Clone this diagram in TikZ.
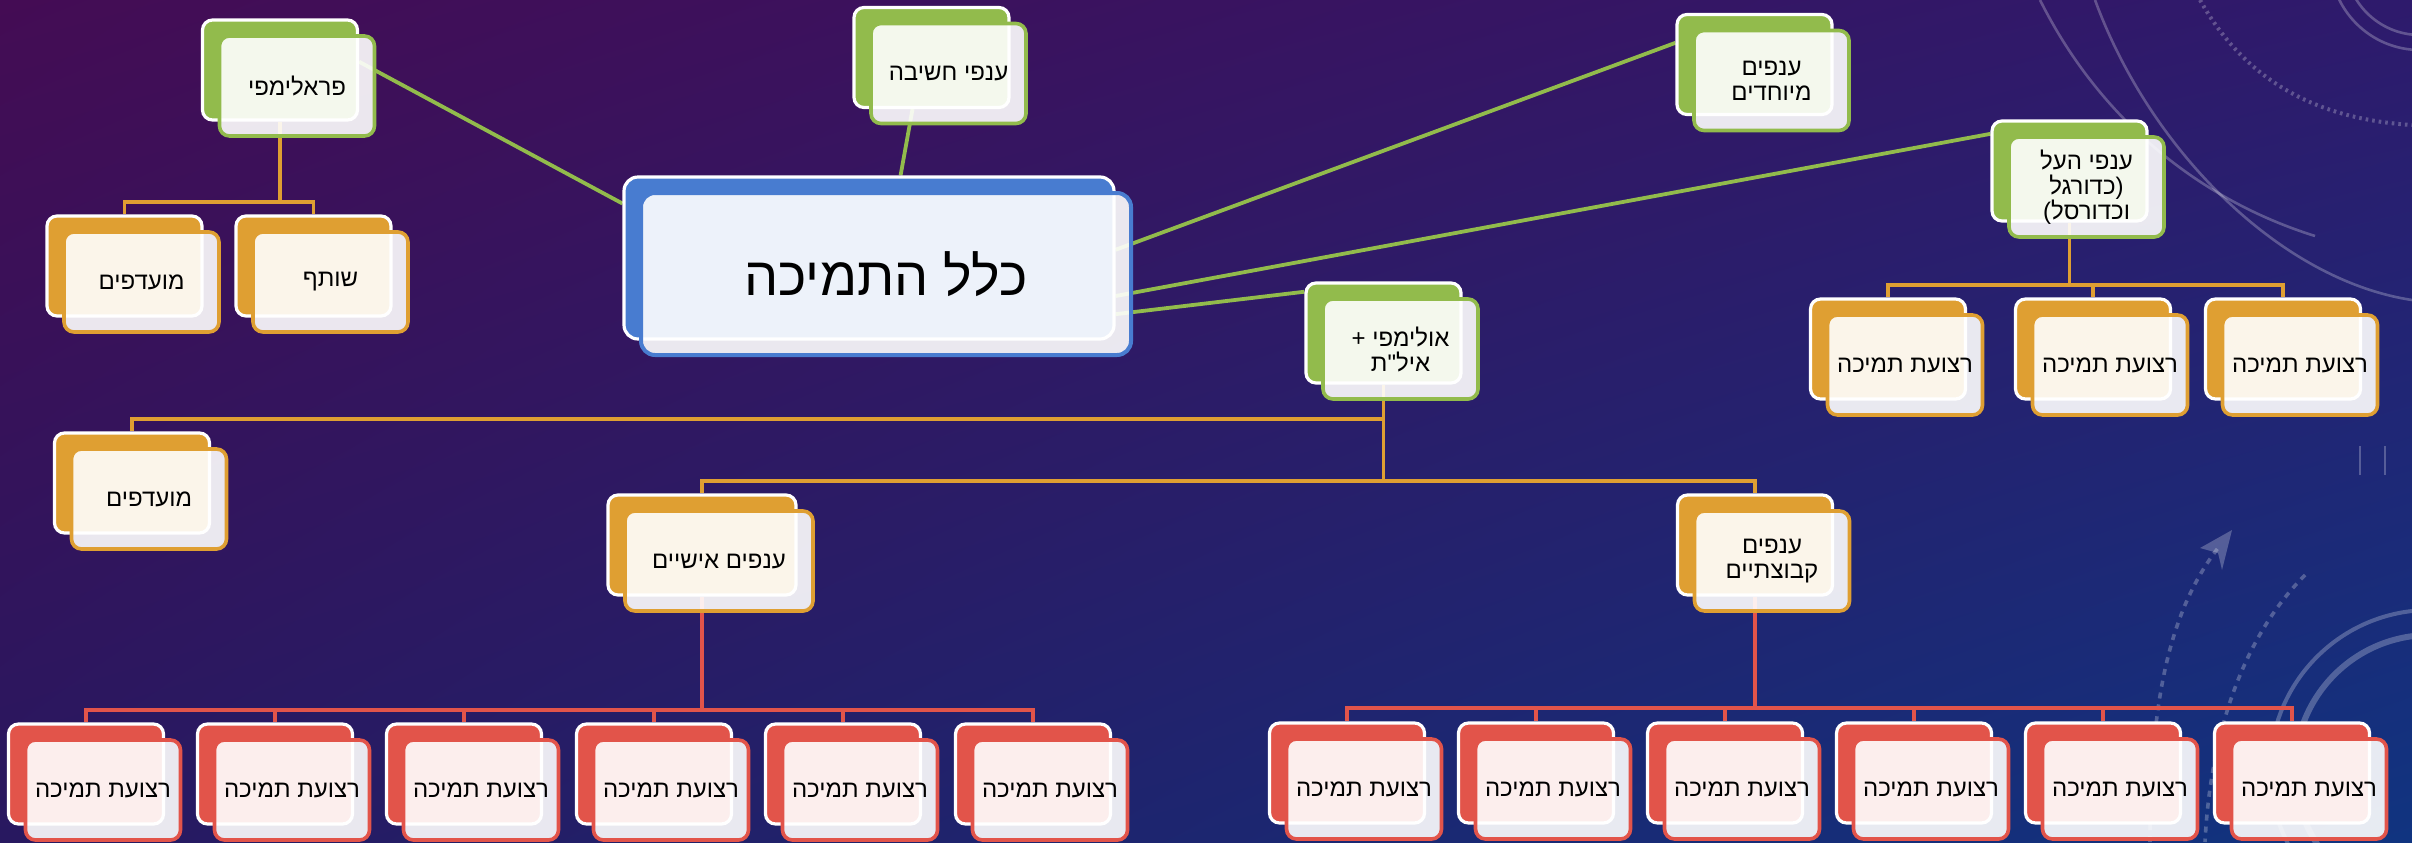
\documentclass[tikz,border=0pt]{standalone}
\usepackage{fontspec}
\setmainfont{Liberation Sans}
\newfontfamily\hebfont[Script=Hebrew]{Liberation Sans}
\TeXXeTstate=1
\usetikzlibrary{calc,arrows.meta,shadings}
\definecolor{cgreen}{RGB}{146,187,76}
\definecolor{cblue}{RGB}{72,124,208}
\definecolor{corange}{RGB}{223,159,50}
\definecolor{cred}{RGB}{226,84,74}
\definecolor{bgUL}{RGB}{68,12,84}
\definecolor{bgUR}{RGB}{46,26,108}
\definecolor{bgLL}{RGB}{40,24,96}
\definecolor{bgLR}{RGB}{16,52,128}
\newcommand\heb[1]{\beginR #1\endR}
\pgfdeclarelayer{bg}
\pgfdeclarelayer{lines}
\pgfsetlayers{bg,lines,main}
\tikzset{
  backcard/.style={draw=white, line width=1.6pt, rounded corners=5pt,
    minimum width=77.5pt, minimum height=50pt, inner sep=0pt},
  frontcard/.style={line width=1.8pt, rounded corners=5pt,
    minimum width=77.5pt, minimum height=50pt, inner sep=2pt,
    fill=white, fill opacity=0.9, text opacity=1, align=center,
    font=\hebfont\fontsize{12}{12.5}\selectfont, text=black},
  gline/.style={draw=cgreen, line width=1.9pt},
  oline/.style={draw=corange, line width=1.9pt},
  rline/.style={draw=cred, line width=1.9pt},
  deco/.style={draw=white, draw opacity=0.25, line width=1.3pt},
}
% #1 width, #2 name, #3 back-card centre, #4 colour, #5 text
\newcommand\card[5][77.5pt]{%
  \node[backcard, fill=#4, minimum width=#1] (#2b) at (#3) {};
  \node[frontcard, draw=#4, minimum width=#1] (#2) at ($(#2b)+(17,16)$) {#5};
}
\begin{document}
\begin{tikzpicture}[x=0.5pt, y=-0.5pt]
\useasboundingbox (0,0) rectangle (2412,842);
\begin{pgfonlayer}{bg}
  \shade[upper left=bgUL, upper right=bgUR, lower left=bgLL, lower right=bgLR]
    (0,0) rectangle (2412,842);
  % background decoration
  \draw[deco] (2040,0) .. controls (2100,120) and (2200,200) .. (2315,236);
  \draw[deco] (2095,0) .. controls (2150,150) and (2280,280) .. (2412,300);
  \draw[deco, dotted, line width=2pt] (2200,0) .. controls (2250,90) and (2330,120) .. (2412,125);
  \draw[deco] (2420,-40) circle[radius=75];
  \draw[deco] (2420,-40) circle[radius=90];
  \draw[deco] (2360,446) -- (2360,475);
  \draw[deco] (2385,446) -- (2385,475);
  \draw[deco, line width=2pt] (2430,770) circle[radius=160];
  \draw[deco, line width=3pt] (2430,770) circle[radius=135];
  \draw[deco, dashed, line width=1.8pt] (2150,842) .. controls (2150,700) and (2170,610) .. (2218,548);
  \fill[white, fill opacity=0.25] (2232,530) -- (2200,548) -- (2218,553) -- (2222,570) -- cycle;
  \draw[deco, dashed, line width=1.8pt] (2305,575) .. controls (2240,640) and (2210,740) .. (2205,842);
\end{pgfonlayer}

% central card
\node[backcard, fill=cblue, minimum width=245pt, minimum height=81pt, rounded corners=7pt] (mainb) at (869,258) {};
\node[frontcard, draw=cblue, line width=2pt, minimum width=245pt, minimum height=81pt, rounded corners=7pt,
  font=\hebfont\fontsize{27}{30}\selectfont] (main) at ($(mainb)+(17,16)$) {\heb{כלל התמיכה}};

% green cards
\card{para}{280,70}{cgreen}{\heb{פראלימפי}}
\card{think}{931.5,57.5}{cgreen}{\heb{ענפי חשיבה}}
\card{special}{1754.5,64.5}{cgreen}{\heb{ענפים}\\\heb{מיוחדים}}
\card{elite}{2069.5,171}{cgreen}{\heb{ענפי העל}\\\heb{(כדורגל}\\\heb{וכדורסל)}}
\card{olym}{1383.5,333}{cgreen}{\heb{אולימפי +}\\\heb{איל"ת}}

% orange cards
\card{fav1}{124.5,266}{corange}{\heb{מועדפים}}
\card{share}{313.5,266}{corange}{\heb{שותף}}
\card{e1}{1888,349}{corange}{\heb{רצועת תמיכה}}
\card{e2}{2093,349}{corange}{\heb{רצועת תמיכה}}
\card{e3}{2283,349}{corange}{\heb{רצועת תמיכה}}
\card{fav2}{132,483}{corange}{\heb{מועדפים}}
\card[94pt]{indiv}{702,545}{corange}{\heb{ענפים אישיים}}
\card{team}{1755,545}{corange}{\heb{ענפים}\\\heb{קבוצתיים}}

% red cards
\card{l1}{86,774}{cred}{\heb{רצועת תמיכה}}
\card{l2}{275,774}{cred}{\heb{רצועת תמיכה}}
\card{l3}{464,774}{cred}{\heb{רצועת תמיכה}}
\card{l4}{654,774}{cred}{\heb{רצועת תמיכה}}
\card{l5}{843,774}{cred}{\heb{רצועת תמיכה}}
\card{l6}{1033,774}{cred}{\heb{רצועת תמיכה}}
\card{r1}{1347,773}{cred}{\heb{רצועת תמיכה}}
\card{r2}{1536,773}{cred}{\heb{רצועת תמיכה}}
\card{r3}{1725,773}{cred}{\heb{רצועת תמיכה}}
\card{r4}{1914,773}{cred}{\heb{רצועת תמיכה}}
\card{r5}{2103,773}{cred}{\heb{רצועת תמיכה}}
\card{r6}{2292,773}{cred}{\heb{רצועת תמיכה}}

\begin{pgfonlayer}{lines}
  % green spokes
  \draw[gline] ($(parab.north east)!0.42!(parab.south east)$) -- ($(mainb.north west)!0.17!(mainb.south west)$);
  \draw[gline] ($(thinkb.south west)!0.38!(thinkb.south east)$) -- ($(mainb.north west)!0.564!(mainb.north east)$);
  \draw[gline] ($(mainb.north east)!0.45!(mainb.south east)$) -- ($(specialb.north west)!0.29!(specialb.south west)$);
  \draw[gline] ($(mainb.north east)!0.73!(mainb.south east)$) -- ($(eliteb.north west)!0.14!(eliteb.south west)$);
  \draw[gline] ($(mainb.north east)!0.84!(mainb.south east)$) -- ($(olymb.north west)!0.1!(olymb.south west)$);
  % paralympic tree
  \draw[oline] (parab.south) -- (parab.south |- 0,202) -| (fav1b.north);
  \draw[oline] (parab.south |- 0,202) -| (shareb.north);
  % elite tree
  \draw[oline] (eliteb.south) -- (eliteb.south |- 0,285) -| (e1b.north);
  \draw[oline] (eliteb.south |- 0,285) -| (e3b.north);
  \draw[oline] (e2b.north) -- (e2b.north |- 0,285);
  % olympic tree
  \draw[oline] (olymb.south) -- (olymb.south |- 0,481) -| (indivb.north);
  \draw[oline] (olymb.south |- 0,481) -| (teamb.north);
  \draw[oline] (olymb.south |- 0,419) -| (fav2b.north);
  % individual tree
  \draw[rline] (indivb.south) -- (indivb.south |- 0,710) -| (l1b.north);
  \draw[rline] (indivb.south |- 0,710) -| (l6b.north);
  \foreach \c in {l2,l3,l4,l5} \draw[rline] (\c b.north) -- (\c b.north |- 0,710);
  % team tree
  \draw[rline] (teamb.south) -- (teamb.south |- 0,708) -| (r1b.north);
  \draw[rline] (teamb.south |- 0,708) -| (r6b.north);
  \foreach \c in {r2,r3,r4,r5} \draw[rline] (\c b.north) -- (\c b.north |- 0,708);
\end{pgfonlayer}
\end{tikzpicture}
\end{document}
